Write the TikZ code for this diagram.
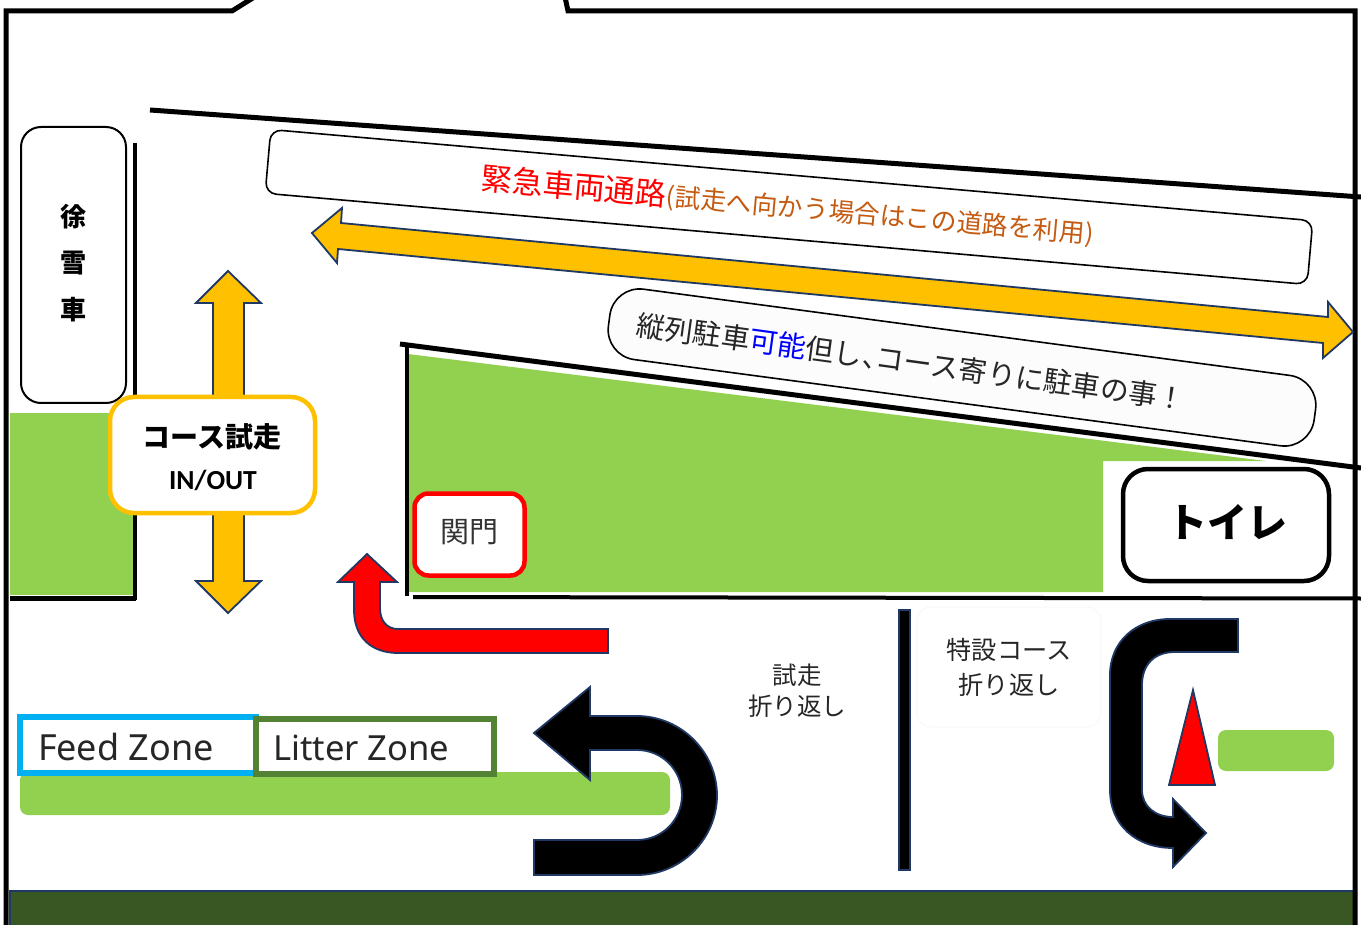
\documentclass[tikz,border=0pt]{standalone}
\usepackage{fontspec}
\newfontfamily\jp{Noto Sans CJK JP}
\setmainfont{Noto Sans}
\newfontfamily\carl{Carlito}
\definecolor{leaf}{HTML}{92D050}
\definecolor{amber}{HTML}{FFC000}
\definecolor{navy}{HTML}{1F3864}
\definecolor{forest}{HTML}{385723}
\definecolor{sky}{HTML}{00B0F0}
\definecolor{moss}{HTML}{548235}
\definecolor{rust}{HTML}{C55A11}
\tikzset{
  wall/.style={draw=black,line width=5pt},
  thinwall/.style={draw=black,line width=3.5pt},
  arrowshape/.style={draw=navy,line width=1.8pt,line join=miter},
  lab/.style={inner sep=0pt,outer sep=0pt,align=center,font=\jp},
  softgreen/.style={fill=leaf,rounded corners=8pt},
}
\begin{document}
\begin{tikzpicture}[x=1pt,y=-1pt]
\useasboundingbox (0,0) rectangle (1361,925);
\fill[white] (0,0) rectangle (1361,925);
% green areas
\fill[leaf] (10,413) rectangle (133,595);
\fill[leaf] (408,354) -- (1266,461) -- (1103,461) -- (1103,592) -- (408,592) -- cycle;
\fill[softgreen] (20,772) rectangle (670,815);
\fill[softgreen] (1218,730) rectangle (1334,771);
% dark green band
\fill[forest,draw=navy,line width=1.8pt] (10,891) rectangle (1355,927);
% frame
\draw[wall,line join=miter] (6,927) -- (6,11) -- (232,11) -- (256,-4);
\draw[wall,line join=miter] (565,-3) -- (568,11) -- (1355,11) -- (1355,927);
% road edges
\draw[wall] (150,110) -- (1361,197);
\draw[wall] (400,344) -- (1361,468);
\draw[thinwall] (407,344) -- (407,596);
\draw[wall,line width=4pt] (413,597) -- (1361,598.5);
\draw[wall] (10,598) -- (136,598);
\draw[wall,line width=4pt] (135,143) -- (135,600);
% slanted boxes
\node[draw=black,line width=1.6pt,fill=white,rounded corners=11pt,rotate=-5,minimum width=1046pt,minimum height=64pt,inner sep=0pt] (road) at (789,207) {};
\node[draw=black,line width=1.6pt,fill=white!99!black,rounded corners=30pt,rotate=-7.6,minimum width=712pt,minimum height=71pt,inner sep=0pt] (park) at (962,367.5) {};
\node[lab,rotate=-5,anchor=center] (roadtext) at (787.5,206) {\textcolor{red}{\fontsize{31}{31}\selectfont 緊急車両通路}\textcolor{rust}{\fontsize{25.7}{25.7}\selectfont (試走へ向かう場合はこの道路を利用)}};
\node[lab,rotate=-7.8,anchor=center] (parktext) at (911,362) {\fontsize{28.5}{28.5}\selectfont\textcolor{black!85}{縦列駐車}\textcolor{blue}{可能}\textcolor{black!85}{但し、\hspace{-15pt}コース寄りに駐車の事！}};
% long amber arrow
\path[fill=amber,arrowshape] (312,233) -- (342,208) -- (341,223) -- (1328,317) -- (1328,302) -- (1353,332) -- (1323,358) -- (1323,343) -- (338,249) -- (337,263) -- cycle;
% vertical amber arrow
\path[fill=amber,arrowshape] (228,271) -- (261,303) -- (244,303) -- (244,581) -- (261,581) -- (228,613) -- (196,581) -- (213,581) -- (213,303) -- (196,303) -- cycle;
% snow truck
\node[draw=black,line width=2pt,fill=white,rounded corners=20pt,minimum width=105pt,minimum height=276pt,inner sep=0pt] (truck) at (73.5,265) {};
\node[lab,font=\jp\bfseries\fontsize{26}{26}\selectfont] (t1) at (73,217) {徐};
\node[lab,font=\jp\bfseries\fontsize{26}{26}\selectfont] (t2) at (73,263) {雪};
\node[lab,font=\jp\bfseries\fontsize{26}{26}\selectfont] (t3) at (73,310) {車};
% course box
\node[draw=amber,line width=4.5pt,fill=white,rounded corners=24pt,minimum width=205pt,minimum height=116pt,inner sep=0pt] (course) at (212.5,455) {};
\node[lab,font=\jp\bfseries\fontsize{28}{28}\selectfont] (c1) at (212,437) {コース試走};
\node[lab,font=\carl\bfseries\fontsize{27.6}{27.6}\selectfont] (c2) at (213,480) {IN/OUT};
% gate
\node[draw=red,line width=4.5pt,fill=white,rounded corners=14pt,minimum width=110pt,minimum height=82pt,inner sep=0pt] (gate) at (469.5,534.5) {};
\node[lab,font=\jp\fontsize{29}{29}\selectfont,text=black!80] (gatetext) at (469,532) {関門};
% toilet
\node[draw=black,line width=4.5pt,fill=white,rounded corners=25pt,minimum width=206pt,minimum height=112pt,inner sep=0pt] (toilet) at (1226,525) {};
\node[lab,font=\jp\bfseries\fontsize{40}{40}\selectfont] (toilettext) at (1227,522) {トイレ};
% red arrow
\path[fill=red,arrowshape] (367,554) -- (397,582) -- (380,582) -- (380,608) .. controls (380,621) and (387,629) .. (398,629) -- (608,629) -- (608,653) -- (398,653) .. controls (372,653) and (354,638) .. (354,610) -- (354,582) -- (338,582) -- cycle;
% zones
\node[draw=sky,line width=6pt,fill=white,minimum width=236pt,minimum height=56pt,inner sep=0pt] (feed) at (138,745) {};
\node[lab,anchor=west,font=\fontsize{36}{36}\selectfont,text=black!85] (feedtext) at (38,747) {Feed Zone};
\node[draw=moss,line width=6pt,fill=white,minimum width=238pt,minimum height=55pt,inner sep=0pt] (litter) at (374.5,746.5) {};
\node[lab,anchor=west,font=\fontsize{34.6}{34.6}\selectfont,text=black!85] (littertext) at (273,748) {Litter Zone};
% black U-turn arrow
\path[fill=black,arrowshape] (534,733) -- (590,687) -- (590,716) -- (637,716) .. controls (681,716) and (717,752) .. (717,795.5) .. controls (717,839) and (681,875) .. (637,875) -- (534,875) -- (534,840) -- (637,840) .. controls (662,840) and (682,820) .. (682,795) .. controls (682,770) and (662,750) .. (637,750) -- (590,750) -- (590,780) -- cycle;
% divider
\path[fill=black,arrowshape] (899,610) rectangle (910,870);
% texts in the lower row
\node[lab,font=\jp\fontsize{24.5}{31}\selectfont,text=black!85] (trial) at (797,691) {試走\\折り返し};
\node[draw=black!4,line width=.6pt,rounded corners=14pt,minimum width=184pt,minimum height=120pt,inner sep=0pt] (specialbox) at (1009,667) {};
\node[lab,font=\jp\fontsize{25.2}{35}\selectfont,text=black!85] (special) at (1009,667.5) {特設コース\\折り返し};
% black bent arrow
\path[fill=black,arrowshape] (1238,619) -- (1238,652) -- (1175,652) .. controls (1154,652) and (1142,665) .. (1142,685) -- (1142,790) .. controls (1142,806) and (1155,817) .. (1173,817) -- (1173,799) -- (1206,833) -- (1173,867) -- (1173,848) .. controls (1136,848) and (1110,825) .. (1110,790) -- (1110,675) .. controls (1110,642) and (1135,619) .. (1170,619) -- cycle;
% red triangle
\path[fill=red,arrowshape] (1193,690) -- (1215,785) -- (1169,785) -- cycle;
\end{tikzpicture}
\end{document}
